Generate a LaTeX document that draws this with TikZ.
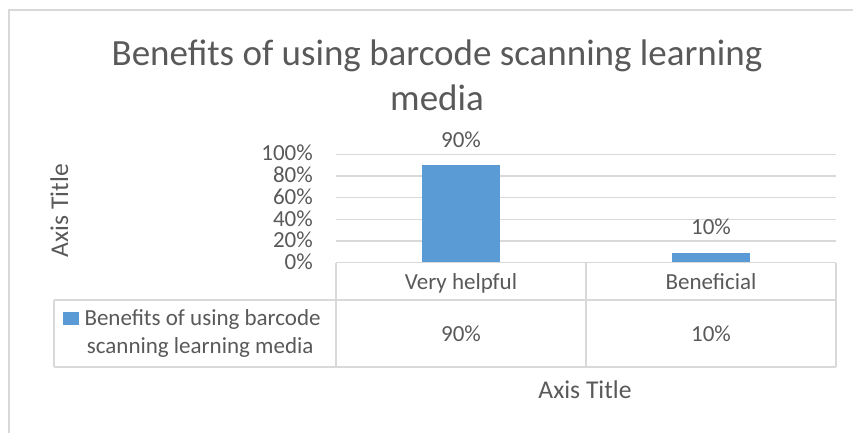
\documentclass[tikz,border=0pt]{standalone}
\usepackage{fontspec}
\setmainfont{Carlito}
\usetikzlibrary{positioning}
\definecolor{gridgray}{HTML}{D9D9D9}
\definecolor{textgray}{HTML}{595959}
\definecolor{barblue}{HTML}{5B9BD5}
\newcommand{\titlefont}{\fontsize{37}{44}\selectfont}
\newcommand{\labelfont}{\fontsize{23}{28}\selectfont}
\newcommand{\axisfont}{\fontsize{25.6}{31}\selectfont}

\begin{document}
\begin{tikzpicture}[x=1pt, y=-1pt,
  every node/.style={text=textgray, inner sep=0pt, font=\labelfont, anchor=base},
  gridline/.style={gridgray, line width=1.3pt},
  tableline/.style={gridgray, line width=1.5pt}]
\useasboundingbox (0,0) rectangle (853,432);
\clip (0,0) rectangle (853,432);
\draw[tableline] (9,10) rectangle (900,480);
% title
\node[font=\titlefont] (title1) at (437,65) {Benefits of using barcode scanning learning};
\node[font=\titlefont] (title2) at (437,110) {media};
% value axis
\foreach \p in {20,40,60,80,100}
	\draw[gridline] (336,262.7-1.085*\p) -- (836,262.7-1.085*\p);
\foreach \p in {0,20,40,60,80,100}
	\node[anchor=base east] (tick\p) at (313,269.4-1.085*\p) {\p\%};
\node[font=\axisfont, rotate=90] (ytitle) at (68,210.5) {Axis Title};
% bars with their labels
\fill[barblue] (422,165) rectangle (500,262.7);
\fill[barblue] (672,252.7) rectangle (750,262.7);
\node (val1) at (461,147) {90\%};
\node (val2) at (711,234) {10\%};
% data table
\draw[tableline] (336,262.7) -- (836,262.7);
\draw[tableline] (54,300) -- (836,300);
\draw[tableline] (54,367) -- (836,367);
\draw[tableline] (54,300) -- (54,367);
\foreach \x in {336,586,836}
	\draw[tableline] (\x,262.7) -- (\x,367);
\node (cat1) at (461,289) {Very helpful};
\node (cat2) at (711,289) {Beneficial};
\node (cell1) at (461,341) {90\%};
\node (cell2) at (711,341) {10\%};
\fill[barblue] (63,312) rectangle (79,325);
\node[anchor=base west] (legend1) at (84.3,325) {Benefits of using barcode};
\node[anchor=base west] (legend2) at (86.7,353) {scanning learning media};
\node[font=\axisfont] (xtitle) at (585,398.3) {Axis Title};
\end{tikzpicture}
\end{document}
